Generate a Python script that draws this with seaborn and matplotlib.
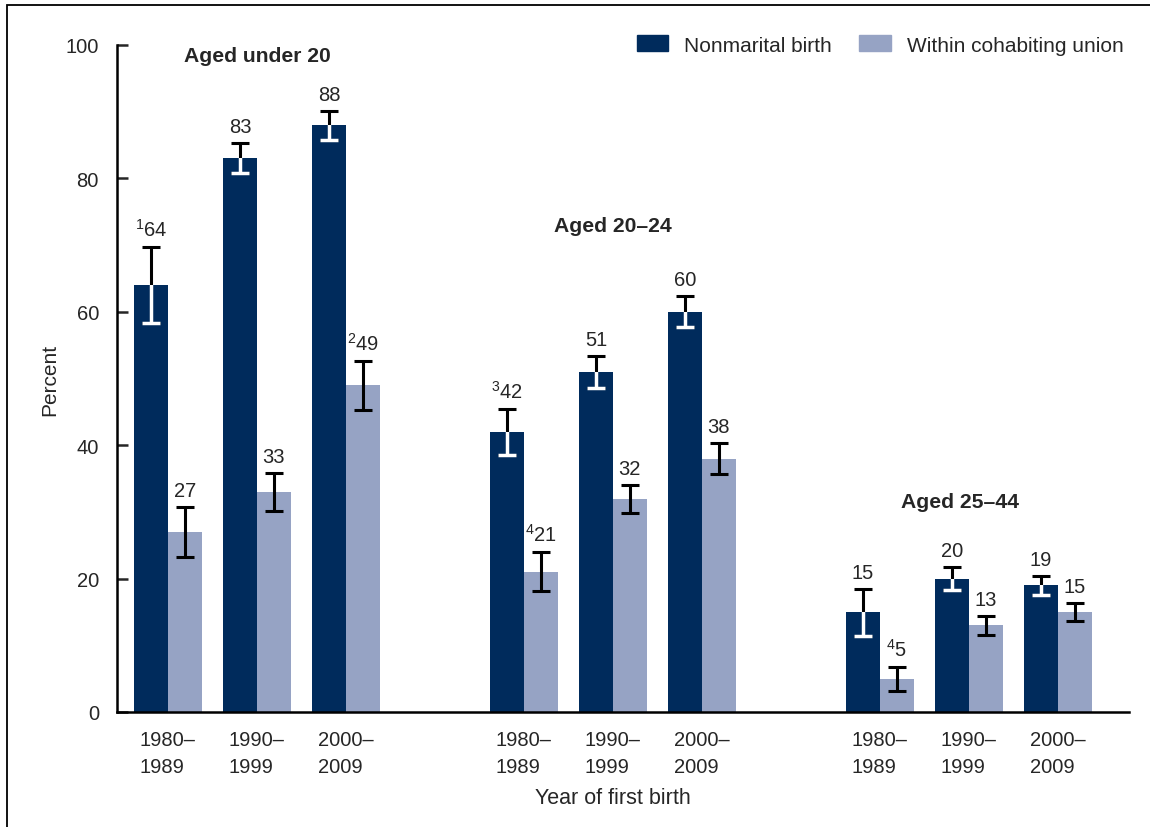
import matplotlib
matplotlib.use("Agg")
import matplotlib.pyplot as plt
from matplotlib.patches import Rectangle
from matplotlib.container import BarContainer
import seaborn as sns
import pandas as pd
import numpy as np

# ---- data ----
groups = ["Aged under 20", "Aged 20–24", "Aged 25–44"]
years = ["1980–\n1989", "1990–\n1999", "2000–\n2009"]
series = ["Nonmarital birth", "Within cohabiting union"]

nonmarital = [64, 83, 88, 42, 51, 60, 15, 20, 19]
nonmarital_lo = [58.3, 80.8, 85.8, 38.5, 48.6, 57.7, 11.4, 18.3, 17.5]
nonmarital_hi = [69.7, 85.3, 90.1, 45.4, 53.4, 62.4, 18.4, 21.7, 20.4]
nonmarital_notes = ["1", "", "", "3", "", "", "", "", ""]

cohab = [27, 33, 49, 21, 32, 38, 5, 13, 15]
cohab_lo = [23.2, 30.1, 45.3, 18.1, 29.8, 35.7, 3.1, 11.5, 13.6]
cohab_hi = [30.7, 35.8, 52.6, 24.0, 34.0, 40.3, 6.7, 14.4, 16.3]
cohab_notes = ["", "", "2", "4", "", "", "4", "", ""]

colors = ["#002b5c", "#96a3c4"]

# ---- build table ----
slot_keys = []
rows = []
for gi, g in enumerate(groups):
    for yi, yr in enumerate(years):
        k = gi * 3 + yi
        key = f"{g}|{yr}"
        slot_keys.append(key)
        rows.append(dict(slot=key, series=series[0], value=nonmarital[k],
                         lo=nonmarital_lo[k], hi=nonmarital_hi[k], note=nonmarital_notes[k]))
        rows.append(dict(slot=key, series=series[1], value=cohab[k],
                         lo=cohab_lo[k], hi=cohab_hi[k], note=cohab_notes[k]))
df = pd.DataFrame(rows)

# order with spacer slots between age groups
order = []
for gi in range(len(groups)):
    order.extend(slot_keys[gi * 3:(gi + 1) * 3])
    if gi < len(groups) - 1:
        order.append(f"gap{gi}")

# ---- style ----
sns.set_style("white")
plt.rcParams["font.family"] = ["Liberation Sans", "DejaVu Sans"]
plt.rcParams["mathtext.fontset"] = "custom"
plt.rcParams["mathtext.rm"] = "Liberation Sans"
plt.rcParams["mathtext.it"] = "Liberation Sans:italic"
plt.rcParams["mathtext.bf"] = "Liberation Sans:bold"
plt.rcParams["mathtext.default"] = "regular"

fig = plt.figure(figsize=(11.5, 8.28), dpi=100)
ax = fig.add_axes([117 / 1150, 1 - 713 / 828, (1129 - 117) / 1150, (713 - 46) / 828])

sns.barplot(data=df, x="slot", y="value", hue="series", order=order,
            hue_order=series, palette=colors, width=0.76, saturation=1,
            errorbar=None, legend=True, ax=ax, linewidth=0)

ax.set_xlim(-0.573, 10.8)
ax.set_ylim(0, 100)
ax.set_yticks([0, 20, 40, 60, 80, 100])

real_pos = [order.index(k) for k in slot_keys]
ax.set_xticks(real_pos)
ax.set_xticklabels([years[i % 3] for i in range(len(slot_keys))],
                   fontsize=14.5, linespacing=1.55, multialignment="left")
ax.tick_params(axis="x", length=0, pad=13)
ax.tick_params(axis="y", direction="in", length=8, width=1.8, pad=13, labelsize=14.5, left=True)

for s in ["top", "right"]:
    ax.spines[s].set_visible(False)
for s in ["left", "bottom"]:
    ax.spines[s].set_linewidth(1.8)
    ax.spines[s].set_color("black")

ax.set_xlabel("Year of first birth", fontsize=15.5, va="center")
ax.xaxis.set_label_coords(0.49, -85 / 667)
ax.set_ylabel("Percent", fontsize=15, va="center")
ax.yaxis.set_label_coords(-67 / 1012, 0.5)

# ---- error bars and value labels ----
bar_containers = [c for c in ax.containers if isinstance(c, BarContainer)]
lookup = {(r.slot, r.series): r for r in df.itertuples()}
for si, cont in enumerate(bar_containers):
    ser = series[si]
    for bar in cont:
        h = bar.get_height()
        if not np.isfinite(h) or h == 0:
            continue
        xc = bar.get_x() + bar.get_width() / 2
        slot = order[int(round(xc))]
        r = lookup[(slot, ser)]
        yerr = [[r.value - r.lo], [r.hi - r.value]]
        ax.errorbar([xc], [r.value], yerr=yerr, fmt="none", ecolor="black",
                    elinewidth=2.2, capsize=6.5, capthick=2.2, zorder=3)
        if si == 0:
            eb = ax.errorbar([xc], [r.value], yerr=yerr, fmt="none", ecolor="white",
                             elinewidth=2.5, capsize=6.8, capthick=2.5, zorder=4)
            for art in list(eb.lines[1]) + list(eb.lines[2]):
                art.set_clip_path(bar)
        label = (f"$^{{{r.note}}}$" if r.note else "") + f"{r.value:g}"
        ax.annotate(label, (xc, r.hi), xytext=(0, 8), textcoords="offset points",
                    ha="center", va="baseline", fontsize=14.5, zorder=5)

# ---- group labels ----
group_label_y = [98.4, 72.9, 31.5]
group_label_dx = [0.0, 0.0, -0.1]
for gi, g in enumerate(groups):
    xpos = order.index(slot_keys[gi * 3 + 1]) + group_label_dx[gi]
    ax.text(xpos, group_label_y[gi], g, ha="center", va="center",
            fontsize=15.2, fontweight="bold")

# ---- legend ----
ax.get_legend().remove()
handles = [Rectangle((0, 0), 1, 1, color=c) for c in colors]
fig.legend(handles, series, loc="center right",
           bbox_to_anchor=(1124 / 1150, 1 - 46 / 828), ncol=2, frameon=False,
           fontsize=15, handlelength=1.5, handleheight=0.8, handletextpad=0.8,
           columnspacing=1.3, borderpad=0, borderaxespad=0)

# ---- figure border (top & left visible) ----
fig.add_artist(Rectangle((7 / 1150, -0.1), 1.2, 1.1 - 6 / 828, transform=fig.transFigure,
                         fill=False, ec="black", lw=1.3))

fig.savefig("out.png", dpi=100)
